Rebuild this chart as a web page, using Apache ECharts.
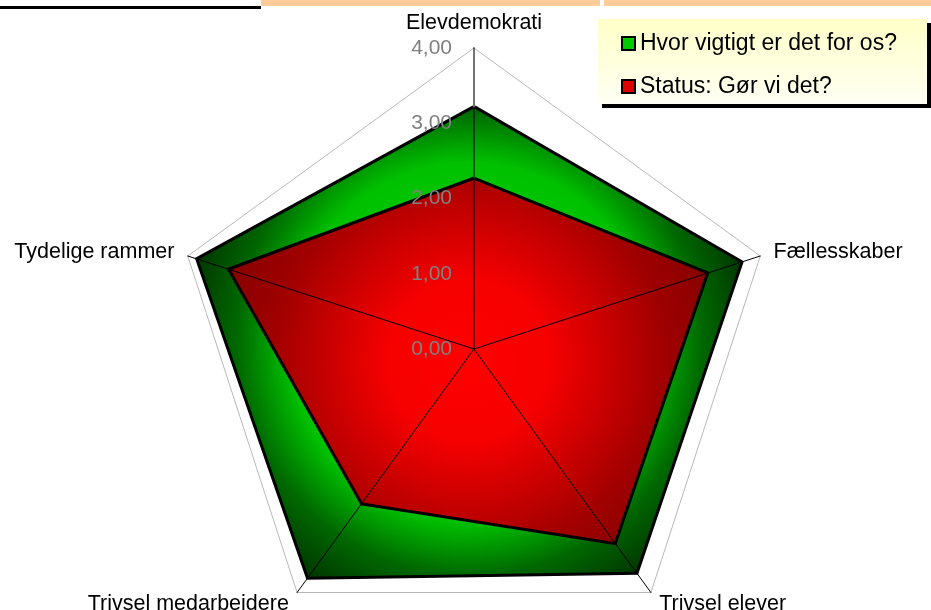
<!DOCTYPE html>
<html>
<head>
<meta charset="utf-8">
<script src="https://cdn.jsdelivr.net/npm/echarts@6/dist/echarts.min.js"></script>
<style>
html, body { margin: 0; padding: 0; background: #fff; }
#container { width: 931px; height: 610px; }
</style>
</head>
<body>
<div id="container"></div>
<script>
let chart = echarts.init(document.getElementById('container'));

// clockwise from the top, like the sheet
var categories = ['Elevdemokrati', 'Fællesskaber', 'Trivsel elever', 'Trivsel medarbejdere', 'Tydelige rammer'];
var vigtigtVals = [3.20, 3.72, 3.66, 3.74, 3.85];
var statusVals = [2.25, 3.24, 3.17, 2.52, 3.40];
var seriesNames = ['Hvor vigtigt er det for os?', 'Status: Gør vi det?'];
var maxValue = 4;

var font = 'Liberation Sans';

// echarts lays radar axes out counter-clockwise
var order = [0, 4, 3, 2, 1];
function ccw(arr) {
    return order.map(i => arr[i]);
}

var greenFill = new echarts.graphic.RadialGradient(0.5, 0.5, 0.62, [
    {offset: 0, color: '#00e000'},
    {offset: 0.62, color: '#00c000'},
    {offset: 0.8, color: '#006800'},
    {offset: 1, color: '#003000'}
]);
var redFill = new echarts.graphic.RadialGradient(0.5, 0.5, 0.75, [
    {offset: 0, color: '#ff0000'},
    {offset: 0.3, color: '#f60000'},
    {offset: 0.72, color: '#a00000'},
    {offset: 1, color: '#800000'}
]);
var legendFill = new echarts.graphic.LinearGradient(0, 0, 0, 1, [
    {offset: 0, color: '#ffffc8'},
    {offset: 1, color: '#fffff4'}
]);

// upper radar: spokes + value labels drawn over the areas
var topIndicators = ccw(categories).map((name, i) => {
    let ind = {name: name, min: 0, max: maxValue};
    if (i == 0) {
        ind.axisLine = {lineStyle: {color: 'rgba(0,0,0,0.55)', width: 2}};
        ind.axisLabel = {show: true};
    }
    return ind;
});

var option = {
    animation: false,
    graphic: [
        {type: 'rect', z: 0, shape: {x: 0, y: 6, width: 261, height: 3}, style: {fill: '#000'}},
        {type: 'rect', z: 0, shape: {x: 261, y: 0, width: 339, height: 6}, style: {fill: '#ffcc99'}},
        {type: 'rect', z: 0, shape: {x: 604, y: 0, width: 327, height: 6}, style: {fill: '#ffcc99'}},
        {type: 'rect', z: 0, shape: {x: 602, y: 23, width: 329, height: 85}, style: {fill: '#000'}},
        {type: 'rect', z: 0, shape: {x: 598, y: 19, width: 329, height: 85}, style: {fill: legendFill}}
    ],
    legend: {
        orient: 'vertical',
        left: 621,
        top: 32,
        padding: 0,
        z: 10,
        icon: 'rect',
        itemWidth: 13,
        itemHeight: 13,
        itemGap: 20,
        selectedMode: false,
        textStyle: {fontSize: 23, color: '#000', fontFamily: font},
        data: [
            {name: seriesNames[0], itemStyle: {color: '#00cc00', borderColor: '#000', borderWidth: 2}},
            {name: seriesNames[1], itemStyle: {color: '#dd0000', borderColor: '#000', borderWidth: 2}}
        ]
    },
    radar: [
        {
            center: [474, 349],
            radius: 301,
            startAngle: 90,
            shape: 'polygon',
            splitNumber: 4,
            z: 1,
            nameGap: 14,
            indicator: ccw(categories).map(name => ({name: name, min: 0, max: maxValue})),
            axisName: {color: '#000', fontSize: 21.5, fontFamily: font},
            axisLine: {show: false},
            axisTick: {show: false},
            axisLabel: {show: false},
            splitArea: {show: false},
            splitLine: {
                lineStyle: {
                    color: ['rgba(0,0,0,0)', 'rgba(0,0,0,0)', 'rgba(0,0,0,0)', 'rgba(0,0,0,0)', '#b8b8b8'],
                    width: 1
                }
            }
        },
        {
            center: [474, 349],
            radius: 301,
            startAngle: 90,
            shape: 'polygon',
            splitNumber: 4,
            z: 5,
            indicator: topIndicators,
            axisName: {show: false},
            axisLine: {show: true, lineStyle: {color: '#000', width: 1}},
            axisTick: {show: false},
            axisLabel: {
                show: false,
                color: '#808080',
                fontSize: 21,
                fontFamily: font,
                margin: 22,
                showMinLabel: true,
                showMaxLabel: true,
                formatter: v => v.toFixed(2).replace('.', ',')
            },
            splitArea: {show: false},
            splitLine: {show: false}
        }
    ],
    series: [
        {
            type: 'radar',
            radarIndex: 0,
            symbol: 'none',
            z: 2,
            // the area covers the inner half of the outline
            lineStyle: {color: '#000', width: 6, join: 'miter'},
            data: [
                {
                    name: seriesNames[0],
                    value: ccw(vigtigtVals),
                    itemStyle: {color: '#00c000'},
                    areaStyle: {color: greenFill, opacity: 1}
                },
                {
                    name: seriesNames[1],
                    value: ccw(statusVals),
                    itemStyle: {color: '#dd0000'},
                    areaStyle: {color: redFill, opacity: 1}
                }
            ]
        }
    ]
};

chart.setOption(option);
</script>
</body>
</html>
